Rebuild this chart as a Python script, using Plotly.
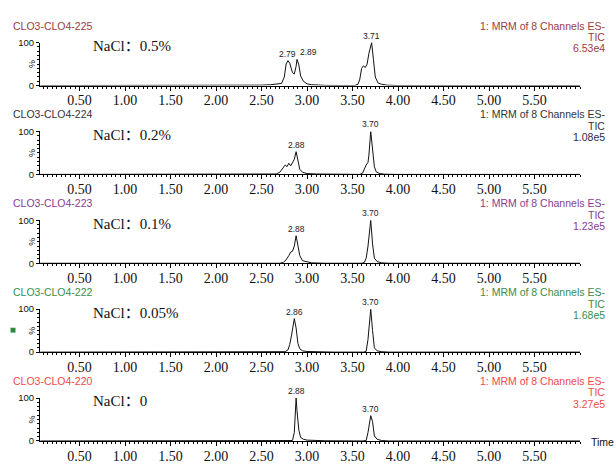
import plotly.graph_objects as go

W, H = 616, 466

# ---------------- data ----------------
sample_ids = ["CLO3-CLO4-225", "CLO3-CLO4-224", "CLO3-CLO4-223", "CLO3-CLO4-222", "CLO3-CLO4-220"]
nacl_labels = ["NaCl：0.5%", "NaCl：0.2%", "NaCl：0.1%", "NaCl：0.05%", "NaCl：0"]
tic_values = ["6.53e4", "1.08e5", "1.23e5", "1.68e5", "3.27e5"]
channel_text = "1: MRM of 8 Channels ES-"
x_tick_values = [0.5, 1.0, 1.5, 2.0, 2.5, 3.0, 3.5, 4.0, 4.5, 5.0, 5.5]
x_tick_labels = ["0.50", "1.00", "1.50", "2.00", "2.50", "3.00", "3.50", "4.00", "4.50", "5.00", "5.50"]

# chromatogram traces (time in min, relative intensity %)
time_225 = [0.07, 0.5, 1.0, 1.5, 2.0, 2.4, 2.5, 2.6, 2.68, 2.72, 2.75, 2.77, 2.79, 2.81, 2.84, 2.86, 2.88, 2.89,
            2.91, 2.93, 2.96, 3.0, 3.05, 3.1, 3.2, 3.4, 3.52, 3.56, 3.58, 3.60, 3.62, 3.64, 3.66, 3.68, 3.71, 3.73,
            3.75, 3.78, 3.82, 3.88, 4.0, 4.5, 5.0, 5.5, 6.0]
int_225 = [0, 0, 0, 0, 0, 0, 1, 2, 3, 5, 20, 50, 58, 52, 30, 27, 45, 61,
           48, 22, 10, 4, 2, 1, 0.5, 0, 0, 3, 15, 40, 46, 42, 50, 75, 100, 60,
           20, 6, 3, 1, 0, 0, 0, 0, 0]

time_224 = [0.07, 1.0, 2.0, 2.6, 2.66, 2.70, 2.73, 2.76, 2.78, 2.80, 2.82, 2.84, 2.86, 2.88, 2.90, 2.92, 2.95,
            3.0, 3.1, 3.3, 3.58, 3.61, 3.63, 3.65, 3.67, 3.68, 3.70, 3.72, 3.74, 3.76, 3.80, 3.85, 4.0, 6.0]
int_224 = [0, 0, 0, 0, 1, 5, 15, 22, 18, 26, 20, 27, 35, 53, 30, 12, 5,
           2, 1, 0, 0, 3, 15, 22, 28, 45, 100, 50, 18, 6, 2, 0.5, 0, 0]

time_223 = [0.07, 1.0, 2.0, 2.6, 2.70, 2.74, 2.77, 2.80, 2.82, 2.84, 2.86, 2.88, 2.90, 2.92, 2.95, 3.0, 3.05,
            3.2, 3.6, 3.63, 3.65, 3.67, 3.68, 3.70, 3.72, 3.74, 3.77, 3.82, 3.9, 6.0]
int_223 = [0, 0, 0, 0, 0, 2, 8, 18, 26, 28, 40, 64, 42, 18, 6, 3, 1,
           0, 0, 2, 12, 40, 60, 100, 45, 12, 4, 1, 0, 0]

time_222 = [0.07, 1.0, 2.0, 2.7, 2.76, 2.79, 2.81, 2.83, 2.85, 2.86, 2.88, 2.90, 2.92, 2.95, 3.0, 3.1, 3.3,
            3.62, 3.65, 3.67, 3.69, 3.70, 3.72, 3.74, 3.77, 3.82, 3.9, 6.0]
int_222 = [0, 0, 0, 0, 1, 5, 18, 40, 65, 78, 56, 20, 8, 3, 1.5, 0.5, 0,
           0, 2, 30, 80, 100, 50, 10, 3, 1, 0, 0]

time_220 = [0.07, 1.0, 2.0, 2.8, 2.84, 2.86, 2.87, 2.88, 2.89, 2.91, 2.93, 2.96, 3.0, 3.1, 3.2,
            3.6, 3.65, 3.67, 3.69, 3.70, 3.72, 3.74, 3.77, 3.82, 3.9, 6.0]
int_220 = [0, 0, 0, 0, 1, 20, 60, 100, 70, 25, 8, 4, 2, 1, 0.5,
           0, 1, 20, 50, 59, 45, 12, 4, 1, 0, 0]

peak_times = [[2.79, 2.89, 3.71], [2.88, 3.70], [2.88, 3.70], [2.86, 3.70], [2.88, 3.70]]
peak_heights = [[58, 61, 100], [53, 100], [64, 100], [78, 100], [100, 59]]
peak_labels = [["2.79", "2.89", "3.71"], ["2.88", "3.70"], ["2.88", "3.70"], ["2.86", "3.70"], ["2.88", "3.70"]]

times = [time_225, time_224, time_223, time_222, time_220]
intens = [int_225, int_224, int_223, int_222, int_220]

# ---------------- style ----------------
header_colors = ["#9a3c3c", "#333333", "#8a3a92", "#3a8c4c", "#ef4a4a"]
tic_colors = ["#9a3c3c", "#2a2a44", "#8a3a92", "#3a8c4c", "#ef4a4a"]
X_RANGE = [0.065, 6.0]
PLOT_L, PLOT_R = 40, 580
T0, DT = 20, 91.0
TOP_OFF, BOT_OFF = 17.5, 61.5


def py(p):
    return 1 - p / H


def px(p):
    return p / W


fig = go.Figure()
annotations = []
layout_axes = {}

for k in range(5):
    T = T0 + DT * k
    xa = "x" if k == 0 else f"x{k+1}"
    ya = "y" if k == 0 else f"y{k+1}"
    fig.add_trace(go.Scatter(x=times[k], y=intens[k], mode="lines",
                             line=dict(color="#111111", width=1),
                             xaxis=xa, yaxis=ya, showlegend=False, hoverinfo="skip",
                             cliponaxis=False))
    xkey = "xaxis" if k == 0 else f"xaxis{k+1}"
    ykey = "yaxis" if k == 0 else f"yaxis{k+1}"
    layout_axes[xkey] = dict(
        domain=[px(PLOT_L), px(PLOT_R)], range=X_RANGE, anchor=ya,
        showgrid=False, zeroline=False, showline=True, linecolor="black", linewidth=1,
        ticks="outside", ticklen=4, tickcolor="black", tickwidth=1,
        tickvals=x_tick_values, ticktext=x_tick_labels,
        tickfont=dict(family="Liberation Serif", size=14, color="#111111"),
        ticklabelstandoff=-2,
        minor=dict(dtick=0.05, tick0=0, ticks="outside", ticklen=2, tickcolor="black", tickwidth=1),
        fixedrange=True,
    )
    layout_axes[ykey] = dict(
        domain=[py(T + BOT_OFF), py(T + TOP_OFF)], range=[0, 100], anchor=xa,
        showgrid=False, zeroline=False, showline=True, linecolor="black", linewidth=1,
        ticks="outside", ticklen=3, tickcolor="black", tickwidth=1,
        tickvals=[0, 100], ticktext=["0", "100"],
        tickfont=dict(family="Liberation Sans", size=9.5, color="#111111"),
        minor=dict(dtick=10, ticks="outside", ticklen=2, tickcolor="black", tickwidth=1),
        ticklabelstandoff=0,
        fixedrange=True,
    )
    # sample id
    annotations.append(dict(x=px(11), y=py(T), xref="paper", yref="paper", text=sample_ids[k],
                            showarrow=False, xanchor="left", yanchor="middle",
                            font=dict(family="Liberation Sans", size=10.5, color=header_colors[k])))
    # right header
    for j, (txt, col) in enumerate([(channel_text, header_colors[k]), ("TIC", header_colors[k]),
                                    (tic_values[k], tic_colors[k])]):
        annotations.append(dict(x=px(607), y=py(T + 11.7 * j), xref="paper", yref="paper", text=txt,
                                showarrow=False, xanchor="right", yanchor="middle",
                                font=dict(family="Liberation Sans", size=10.5, color=col)))
    # NaCl label
    annotations.append(dict(x=px(91), y=py(T + 21), xref="paper", yref="paper", text=nacl_labels[k],
                            showarrow=False, xanchor="left", yanchor="middle",
                            font=dict(family="Liberation Serif, Noto Sans CJK SC", size=15, color="#111111")))
    # % label
    annotations.append(dict(x=px(32), y=py(T + (TOP_OFF + BOT_OFF) / 2), xref="paper", yref="paper",
                            text="%", textangle=-90, showarrow=False, xanchor="center", yanchor="middle",
                            font=dict(family="Liberation Sans", size=9, color="#111111")))
    # peak labels
    for i, (pt, ph, pl) in enumerate(zip(peak_times[k], peak_heights[k], peak_labels[k])):
        xshift = 0
        if k == 0 and i == 1:
            xshift = 11
        annotations.append(dict(x=pt, y=ph, xref=xa, yref=ya, text=pl, showarrow=False,
                                xanchor="center", yanchor="bottom", yshift=0, xshift=xshift,
                                font=dict(family="Liberation Sans", size=8.5, color="#222222")))

# "Time" axis title on last panel
annotations.append(dict(x=px(589), y=py(T0 + DT * 4 + BOT_OFF + 1), xref="paper", yref="paper", text="Time",
                        showarrow=False, xanchor="left", yanchor="middle",
                        font=dict(family="Liberation Sans", size=10.5, color="#111111")))

shapes = [dict(type="rect", xref="paper", yref="paper",
               x0=px(10.5), x1=px(15.5), y0=py(334.5), y1=py(329.5),
               fillcolor="#2e8b3e", line=dict(width=0))]

fig.update_layout(
    width=W, height=H,
    margin=dict(l=0, r=0, t=0, b=0),
    paper_bgcolor="white", plot_bgcolor="white",
    annotations=annotations, shapes=shapes,
    showlegend=False,
    **layout_axes,
)

fig.write_html("out.html",
               config={"displayModeBar": False, "staticPlot": True},
               post_script="document.body.style.margin='0';document.body.style.overflow='hidden';")
